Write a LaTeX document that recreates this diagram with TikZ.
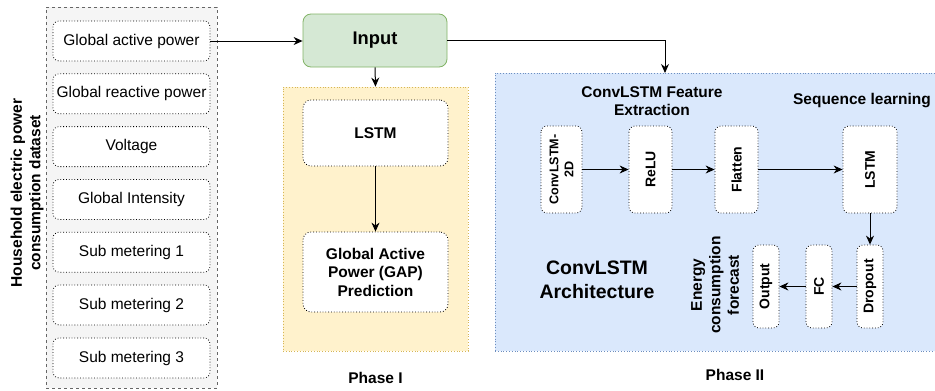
\documentclass[tikz,border=0pt]{standalone}
\usepackage{fontspec}
\setmainfont{Liberation Sans}
\usetikzlibrary{arrows.meta,positioning,calc}
\definecolor{dsf}{RGB}{245,245,245}
\definecolor{dsl}{RGB}{102,102,102}
\definecolor{inf}{RGB}{213,232,212}
\definecolor{inl}{RGB}{130,179,102}
\definecolor{p1f}{RGB}{255,242,204}
\definecolor{p1l}{RGB}{214,182,86}
\definecolor{p2f}{RGB}{218,232,252}
\definecolor{p2l}{RGB}{108,142,191}

\begin{document}
\begin{tikzpicture}[x=1pt, y=-1pt,
    panel/.style={rectangle, draw=#1, line width=0.8pt, inner sep=0pt},
    feat/.style={rectangle, draw, dotted, rounded corners=6pt, fill=white, line width=0.8pt, minimum width=157pt, minimum height=40pt, font=\fontsize{15.5}{18.5}\selectfont},
    blk/.style={rectangle, draw, dotted, rounded corners=8pt, fill=white, line width=0.8pt, minimum width=145pt, align=center, font=\fontsize{15.5}{18.5}\selectfont\bfseries},
    vblk/.style={rectangle, draw, dotted, rounded corners=6pt, fill=white, line width=0.8pt, rotate=90, inner sep=1pt, align=center, font=\fontsize{14}{16}\selectfont\bfseries},
    lbl/.style={align=center, font=\fontsize{15.5}{18.5}\selectfont\bfseries},
    arr/.style={-{Stealth[length=9pt, width=8pt]}, line width=1pt},
]
\useasboundingbox (0,0) rectangle (935,391);

% === Dataset ===
\node[panel=dsl, dashed, fill=dsf, minimum width=171pt, minimum height=381pt] (ds) at (131.5,197.5) {};
\node[lbl, rotate=90] (dslab) at (27,193) {Household electric power\\consumption dataset};
\node[feat] (f1) at (131.5,41) {Global active power};
\node[feat] (f2) at (131.5,93.8) {Global reactive power};
\node[feat] (f3) at (131.5,146.6) {Voltage};
\node[feat] (f4) at (131.5,199.4) {Global Intensity};
\node[feat] (f5) at (131.5,252.2) {Sub metering 1};
\node[feat] (f6) at (131.5,305) {Sub metering 2};
\node[feat] (f7) at (131.5,358) {Sub metering 3};

% === Input ===
\node[rectangle, draw=inl, fill=inf, rounded corners=8pt, line width=0.8pt, minimum width=144pt, minimum height=53pt, font=\fontsize{18.3}{21}\selectfont\bfseries] (in) at (375,40.5) {Input};
\draw[arr] (f1.east) -- (f1.east -| in.west);

% === Phase I ===
\node[panel=p1l, dotted, fill=p1f, minimum width=185pt, minimum height=264pt] (ph1) at (375.5,219) {};
\node[blk, minimum height=66pt] (lstm1) at (375.5,133) {LSTM};
\node[blk, minimum height=80pt] (gap) at (375.5,272) {Global Active\\Power (GAP)\\Prediction};
\node[lbl] (ph1lab) at (375.5,378) {Phase I};
\draw[arr] (in.south) -- (ph1.north);
\draw[arr] (lstm1) -- (gap);

% === Phase II ===
\node[panel=p2l, dotted, fill=p2f, minimum width=445pt, minimum height=278pt] (ph2) at (717.5,212) {};
\coordinate (p2in) at (665,73);
\draw[arr] (in.east) -| (p2in);
\node[lbl] (fe) at (652,101) {ConvLSTM Feature\\Extraction};
\node[lbl] (seq) at (862,101) {Sequence learning};
\node[lbl, font=\fontsize{19.5}{23.5}\selectfont\bfseries] (arch) at (597,280) {ConvLSTM\\Architecture};
\node[lbl, rotate=90] (fc_lab) at (715,285) {Energy\\consumption\\forecast};

\node[vblk, minimum width=87pt, minimum height=41pt, font=\fontsize{12.6}{15}\selectfont\bfseries] (conv) at (561.5,169.5) {ConvLSTM-\\2D};
\node[vblk, minimum width=87pt, minimum height=43pt] (relu) at (650.5,169.5) {ReLU};
\node[vblk, minimum width=87pt, minimum height=43pt] (flat) at (736.5,169.5) {Flatten};
\node[vblk, minimum width=87pt, minimum height=54pt] (lstm2) at (870,169.5) {LSTM};
\node[vblk, minimum width=83pt, minimum height=26pt] (drop) at (870,286.5) {Dropout};
\node[vblk, minimum width=83pt, minimum height=26pt] (fc) at (819,286.5) {FC};
\node[vblk, minimum width=83pt, minimum height=26pt] (out) at (766,286.5) {Output};
\node[lbl] (ph2lab) at (735,375) {Phase II};

\draw[arr] (conv) -- (relu);
\draw[arr] (relu) -- (flat);
\draw[arr] (flat) -- (lstm2);
\draw[arr] (lstm2) -- (drop);
\draw[arr] (drop) -- (fc);
\draw[arr] (fc) -- (out);

\end{tikzpicture}
\end{document}
